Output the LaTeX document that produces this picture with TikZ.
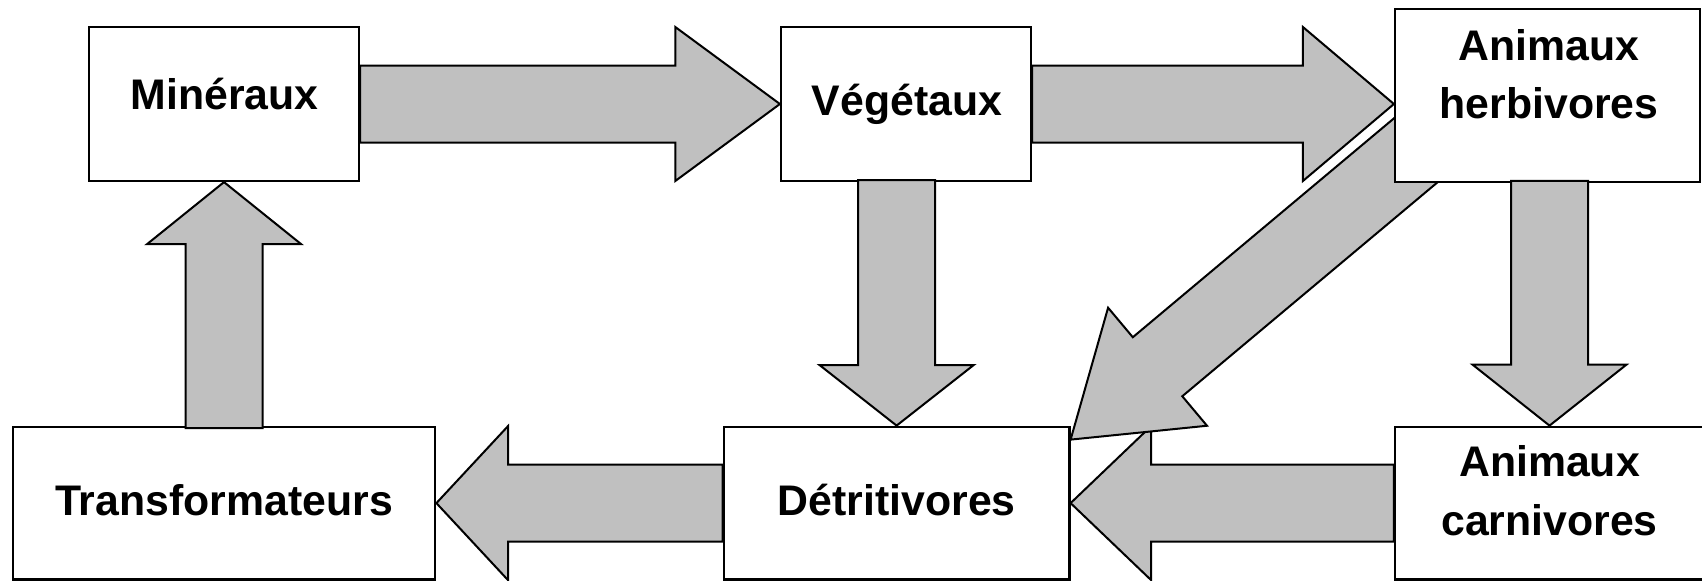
\documentclass[tikz,border=0pt]{standalone}
\usepackage{fontspec}
\setmainfont{Liberation Sans}
\usetikzlibrary{calc}
\definecolor{arrowfill}{HTML}{C0C0C0}
\pgfdeclarelayer{front}
\pgfsetlayers{main,front}
\tikzset{
  box/.style={rectangle, draw=black, fill=white, line width=1.1pt, inner sep=0pt},
  lbl/.style={anchor=base, inner sep=0pt, font=\bfseries\fontsize{21.4}{25}\selectfont},
  % broad block arrow from start to target; #1 = length of the head
  blockarrow/.style={draw=black, fill=arrowfill, line width=1pt, line join=miter,
    to path={let \p1=(\tikztostart), \p2=(\tikztotarget),
        \n1={atan2(\y2-\y1,\x2-\x1)},
        \n2={veclen(\x2-\x1,\y2-\y1)-#1} in
      ({\x1-19.25pt*sin(\n1)},{\y1+19.25pt*cos(\n1)})
      -- ({\x1+\n2*cos(\n1)-19.25pt*sin(\n1)},{\y1+\n2*sin(\n1)+19.25pt*cos(\n1)})
      -- ({\x1+\n2*cos(\n1)-38.5pt*sin(\n1)},{\y1+\n2*sin(\n1)+38.5pt*cos(\n1)})
      -- (\x2,\y2)
      -- ({\x1+\n2*cos(\n1)+38.5pt*sin(\n1)},{\y1+\n2*sin(\n1)-38.5pt*cos(\n1)})
      -- ({\x1+\n2*cos(\n1)+19.25pt*sin(\n1)},{\y1+\n2*sin(\n1)-19.25pt*cos(\n1)})
      -- ({\x1+19.25pt*sin(\n1)},{\y1-19.25pt*cos(\n1)})
      -- cycle}}
}
\begin{document}
\begin{tikzpicture}[x=0.5pt,y=-0.5pt]
\useasboundingbox (0,0) rectangle (1702,580);

% boxes
\node[box, minimum width=135pt,    minimum height=77pt]   (min)   at (224,104)     {};
\node[box, minimum width=125pt,    minimum height=77pt]   (veg)   at (906,104)     {};
\node[box, minimum width=211.15pt, minimum height=76.4pt] (trans) at (224.15,503.1) {};
\node[box, minimum width=172.9pt,  minimum height=76.4pt] (det)   at (896.6,503.1) {};
\node[box, minimum width=154.5pt,  minimum height=76.4pt] (carn)  at (1549.5,503.1) {};
\begin{pgfonlayer}{front}
\node[box, minimum width=152.5pt,  minimum height=86.35pt] (herb) at (1547.5,95.35) {};
\end{pgfonlayer}

% flows
\draw[blockarrow=52.3pt]  (min.east) to (veg.west);
\draw[blockarrow=45.5pt]  (veg.east) to (veg.east -| herb.west);
\draw[blockarrow=30.25pt] ([yshift=1pt]veg.south -| det.north) to (det.north);
\draw[blockarrow=35.8pt]  (det.west) to (trans.east);
\draw[blockarrow=40.25pt] (carn.west) to (det.east);
\draw[blockarrow=31pt]    ([yshift=-1.3pt]trans.north) to (min.south);
\coordinate (diagstart) at ($(herb.south west)+(50,-56.1)$);
\coordinate (diagend)   at ($(det.north east)+(0,14)$);
\draw[blockarrow=56.7pt]  (diagstart) to (diagend);

\begin{pgfonlayer}{front}
\draw[blockarrow=30.5pt]  ([yshift=1pt]herb.south -| carn.north) to (carn.north);

% texts
\node[lbl] (minT)   at (224.5,109)   {Minéraux};
\node[lbl] (vegT)   at (907,115.5)   {Végétaux};
\node[lbl] (herbT1) at (1549,60)     {Animaux};
\node[lbl] (herbT2) at (1549,118.3)  {herbivores};
\node[lbl] (transT) at (224,515)     {Transformateurs};
\node[lbl] (detT)   at (896.7,515)   {Détritivores};
\node[lbl] (carnT1) at (1549.5,476.7) {Animaux};
\node[lbl] (carnT2) at (1549.5,535)  {carnivores};
\end{pgfonlayer}
\end{tikzpicture}
\end{document}
